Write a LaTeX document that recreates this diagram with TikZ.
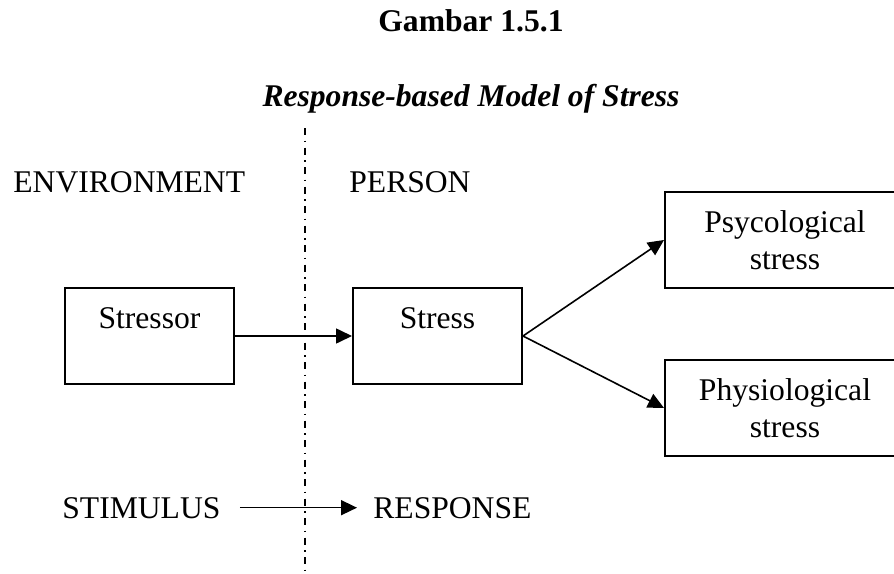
\documentclass[tikz,border=0pt]{standalone}
\usepackage{fontspec}
\setmainfont{Liberation Serif}
\usetikzlibrary{arrows.meta}
\newcommand\diagsize{\fontsize{15.8}{18.5}\selectfont}
\begin{document}
\begin{tikzpicture}[x=0.5pt,y=-0.5pt,
  every node/.style={font=\diagsize, inner sep=0pt},
  box/.style={draw, line width=1pt, minimum width=84.5pt, minimum height=48pt},
  topbox/.style={box, text height=6pt, text depth=14pt},
  bigbox/.style={draw, line width=1pt, minimum width=120pt, minimum height=48pt, align=center},
  conn/.style={line width=0.8pt, -{Triangle[length=8pt,width=7.5pt]}},
  divider/.style={line width=0.6pt, dash pattern=on 3.5pt off 2.75pt on 0.75pt off 2.75pt}]
\useasboundingbox (0,0) rectangle (894,573);
\node[anchor=base, font=\diagsize\bfseries] (gambar) at (471,32) {Gambar 1.5.1};
\node[anchor=base, font=\diagsize\bfseries\itshape] (title) at (471,106) {Response-based Model of Stress};
\coordinate (dtop) at (305,128);
\coordinate (dbot) at (305,573);
\draw[divider] (dtop) -- (dbot);
\node[anchor=base west] (env) at (13,192) {ENVIRONMENT};
\node[anchor=base west] (person) at (349,192) {PERSON};
\node[topbox] (stressor) at (149.5,336) {Stressor};
\node[topbox] (stress) at (437.5,336) {Stress};
\node[bigbox] (psy) at (785,240) {Psycological\\stress};
\node[bigbox] (phy) at (785,408) {Physiological\\stress};
\draw[conn] (stressor.east) -- (stress.west);
\draw[conn] (stress.east) -- (psy.west);
\draw[conn] (stress.east) -- (phy.west);
\node[anchor=base west] (stim) at (62,518) {STIMULUS};
\node[anchor=base west] (resp) at (373,518) {RESPONSE};
\draw[conn] ([xshift=9.5pt]stim.east) -- ([xshift=-8pt]resp.west);
\end{tikzpicture}
\end{document}
